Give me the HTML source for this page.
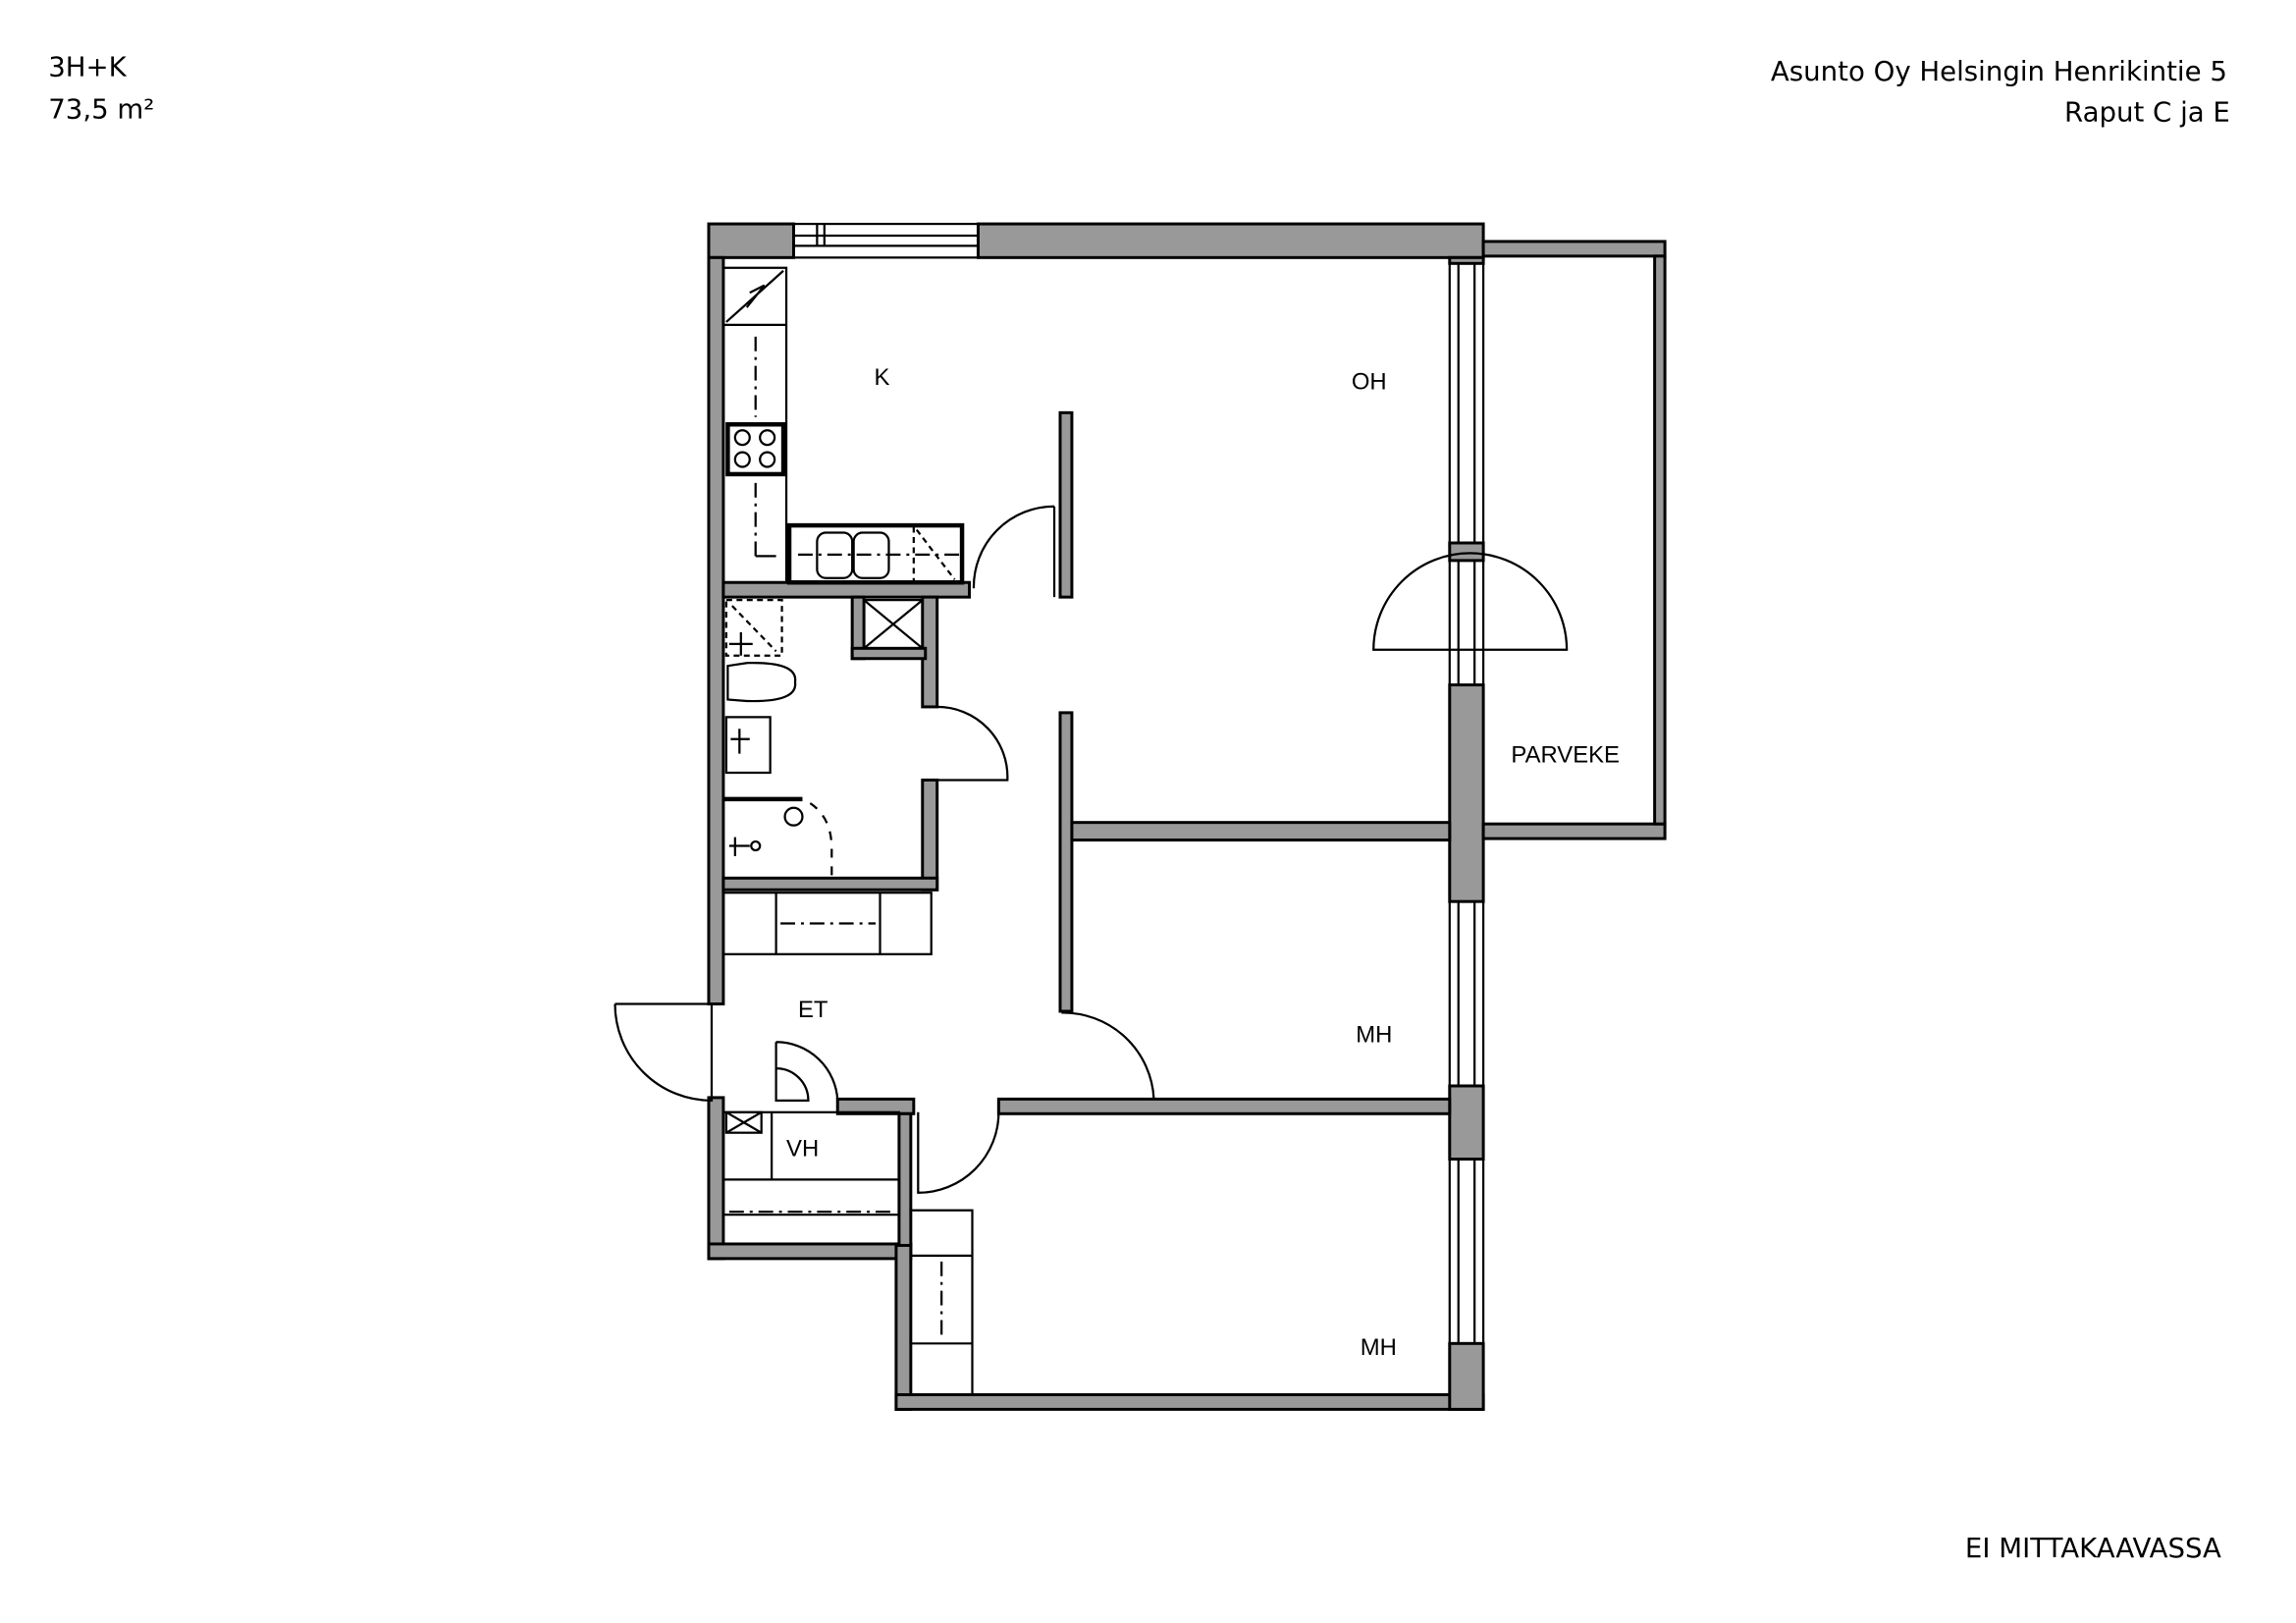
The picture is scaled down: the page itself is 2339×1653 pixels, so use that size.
<!DOCTYPE html>
<html><head><meta charset="utf-8"><style>
html,body{margin:0;padding:0;background:#fff}
svg{display:block}
text{font-family:"Liberation Sans",sans-serif;fill:#000}
.h{font-family:"DejaVu Sans",sans-serif}
</style></head><body>
<svg width="2339" height="1653" viewBox="0 0 1568 1109" preserveAspectRatio="none" xmlns="http://www.w3.org/2000/svg">
<rect width="1568" height="1109" fill="#fff"/>
<text class="h" x="33" y="52" font-size="18.5">3H+K</text>
<text class="h" x="33" y="81" font-size="18.5">73,5 m²</text>
<text class="h" x="1521" y="55" font-size="18.5" text-anchor="end">Asunto Oy Helsingin Henrikintie 5</text>
<text class="h" x="1523" y="83" font-size="18.5" text-anchor="end">Raput C ja E</text>
<text class="h" x="1517" y="1064" font-size="18.5" text-anchor="end">EI MITTAKAAVASSA</text>

<g fill="#999" stroke="#000" stroke-width="2">
<rect x="484" y="153" width="58" height="23"/>
<rect x="668" y="153" width="345" height="23"/>
<rect x="484" y="176" width="10" height="510"/>
<rect x="484" y="750" width="10" height="110"/>
<rect x="484" y="850" width="138" height="10"/>
<rect x="612" y="850" width="10" height="113"/>
<rect x="612" y="953" width="401" height="10"/>
<rect x="990" y="176" width="23" height="4"/>
<rect x="990" y="371" width="23" height="12"/>
<rect x="990" y="468" width="23" height="148"/>
<rect x="990" y="742" width="23" height="50"/>
<rect x="990" y="918" width="23" height="45"/>
<rect x="1013" y="165" width="124" height="10"/>
<rect x="1013" y="563" width="124" height="10"/>
<rect x="1130" y="175" width="7" height="388"/>
<rect x="724" y="282" width="8" height="126"/>
<rect x="724" y="487" width="8" height="204"/>
<rect x="732" y="562" width="258" height="12"/>
<rect x="682" y="751" width="308" height="10"/>
<rect x="572" y="751" width="52" height="10"/>
<rect x="494" y="398" width="168" height="10"/>
<rect x="630" y="408" width="10" height="75"/>
<rect x="630" y="533" width="10" height="75"/>
<rect x="494" y="600" width="146" height="8"/>
<rect x="582" y="408" width="8" height="42"/>
<rect x="582" y="443" width="50" height="7"/>
<rect x="614" y="761" width="8" height="90"/>
</g>

<g fill="none" stroke="#000" stroke-width="1.5">
<rect x="542" y="153" width="126" height="23"/>
<line x1="542" y1="161" x2="668" y2="161"/>
<line x1="542" y1="168" x2="668" y2="168"/>
<line x1="558" y1="153" x2="558" y2="168"/>
<line x1="563" y1="153" x2="563" y2="168"/>
<rect x="990" y="180" width="23" height="191"/><line x1="996" y1="180" x2="996" y2="371"/><line x1="1007" y1="180" x2="1007" y2="371"/>
<rect x="990" y="383" width="23" height="85"/><line x1="996" y1="383" x2="996" y2="468"/><line x1="1007" y1="383" x2="1007" y2="468"/>
<rect x="990" y="616" width="23" height="126"/><line x1="996" y1="616" x2="996" y2="742"/><line x1="1007" y1="616" x2="1007" y2="742"/>
<rect x="990" y="792" width="23" height="126"/><line x1="996" y1="792" x2="996" y2="918"/><line x1="1007" y1="792" x2="1007" y2="918"/>
<path d="M938 444 A66 66 0 0 1 1070 444 Z"/>
<path d="M720 346 A55 55 0 0 0 665 402 M720 346 L720 408"/>
<path d="M640 483 A48 48 0 0 1 688 533 L640 533"/>
<path d="M725 692 A62 62 0 0 1 788 751 L725 751"/>
<path d="M682 760 A55 55 0 0 1 627 815 L627 760"/>
<path d="M420 686 L494 686 M420 686 A66 66 0 0 0 486 752 L486 686"/>
<path d="M530 712 A42 42 0 0 1 572 752 M530 712 L530 752 L552 752 A22 22 0 0 0 530 730"/>
<rect x="494" y="183" width="43" height="215"/>
<line x1="494" y1="222" x2="537" y2="222"/>
<path d="M496 220 L535 185 M510 210 L522 195 L512 200"/>
<rect x="497" y="290" width="38" height="34" stroke-width="3"/>
<circle cx="507" cy="299" r="5"/><circle cx="524" cy="299" r="5"/><circle cx="507" cy="314" r="5"/><circle cx="524" cy="314" r="5"/>
<line x1="516" y1="230" x2="516" y2="285" stroke-dasharray="10 4 2 4"/>
<line x1="516" y1="330" x2="516" y2="380" stroke-dasharray="10 4 2 4"/>
<line x1="516" y1="380" x2="530" y2="380"/>
<rect x="539" y="359" width="118" height="39" stroke-width="3"/>
<rect x="558" y="364" width="24" height="31" rx="6"/><rect x="583" y="364" width="24" height="31" rx="6"/>
<line x1="545" y1="379" x2="655" y2="379" stroke-dasharray="10 4 2 4"/>
<path d="M624 360 L624 398 M626 362 L652 396" stroke-dasharray="4 3"/>
<rect x="496" y="410" width="38" height="38" stroke-dasharray="4 3"/>
<line x1="500" y1="414" x2="530" y2="445" stroke-dasharray="4 3"/>
<path d="M498 440 L514 440 M506 432 L506 448"/>
<rect x="590" y="410" width="40" height="33"/><path d="M590 410 L630 443 M630 410 L590 443"/>
<path d="M497 455 L510 453 Q545 452 543 466 Q545 480 510 479 L497 478 Z"/>
<rect x="496" y="490" width="30" height="38"/>
<path d="M499 505 L512 505 M505 498 L505 515"/>
<path d="M494 546 L548 546 Q568 555 568 580 L568 600" stroke-dasharray="6 6"/>
<line x1="494" y1="546" x2="548" y2="546" stroke-width="3"/>
<circle cx="542" cy="558" r="6"/>
<path d="M498 578 L512 578 M502 572 L502 585"/><circle cx="516" cy="578" r="3"/>
<rect x="494" y="610" width="142" height="42"/>
<line x1="530" y1="610" x2="530" y2="652"/><line x1="601" y1="610" x2="601" y2="652"/>
<line x1="533" y1="631" x2="598" y2="631" stroke-dasharray="10 4 2 4"/>
<rect x="494" y="760" width="120" height="70"/>
<line x1="494" y1="806" x2="614" y2="806"/>
<line x1="527" y1="760" x2="527" y2="806"/>
<line x1="498" y1="828" x2="610" y2="828" stroke-dasharray="10 4 2 4"/>
<rect x="496" y="760" width="24" height="14"/><path d="M496 760 L520 774 M520 760 L496 774"/>
<rect x="622" y="827" width="42" height="126"/>
<line x1="622" y1="858" x2="664" y2="858"/><line x1="622" y1="918" x2="664" y2="918"/>
<line x1="643" y1="862" x2="643" y2="915" stroke-dasharray="10 4 2 4"/>
</g>

<g font-size="16">
<text x="597" y="263">K</text>
<text x="923" y="266">OH</text>
<text x="1032" y="521">PARVEKE</text>
<text x="545" y="695">ET</text>
<text x="926" y="712">MH</text>
<text x="537" y="790">VH</text>
<text x="929" y="926">MH</text>
</g>
</svg>
</body></html>
